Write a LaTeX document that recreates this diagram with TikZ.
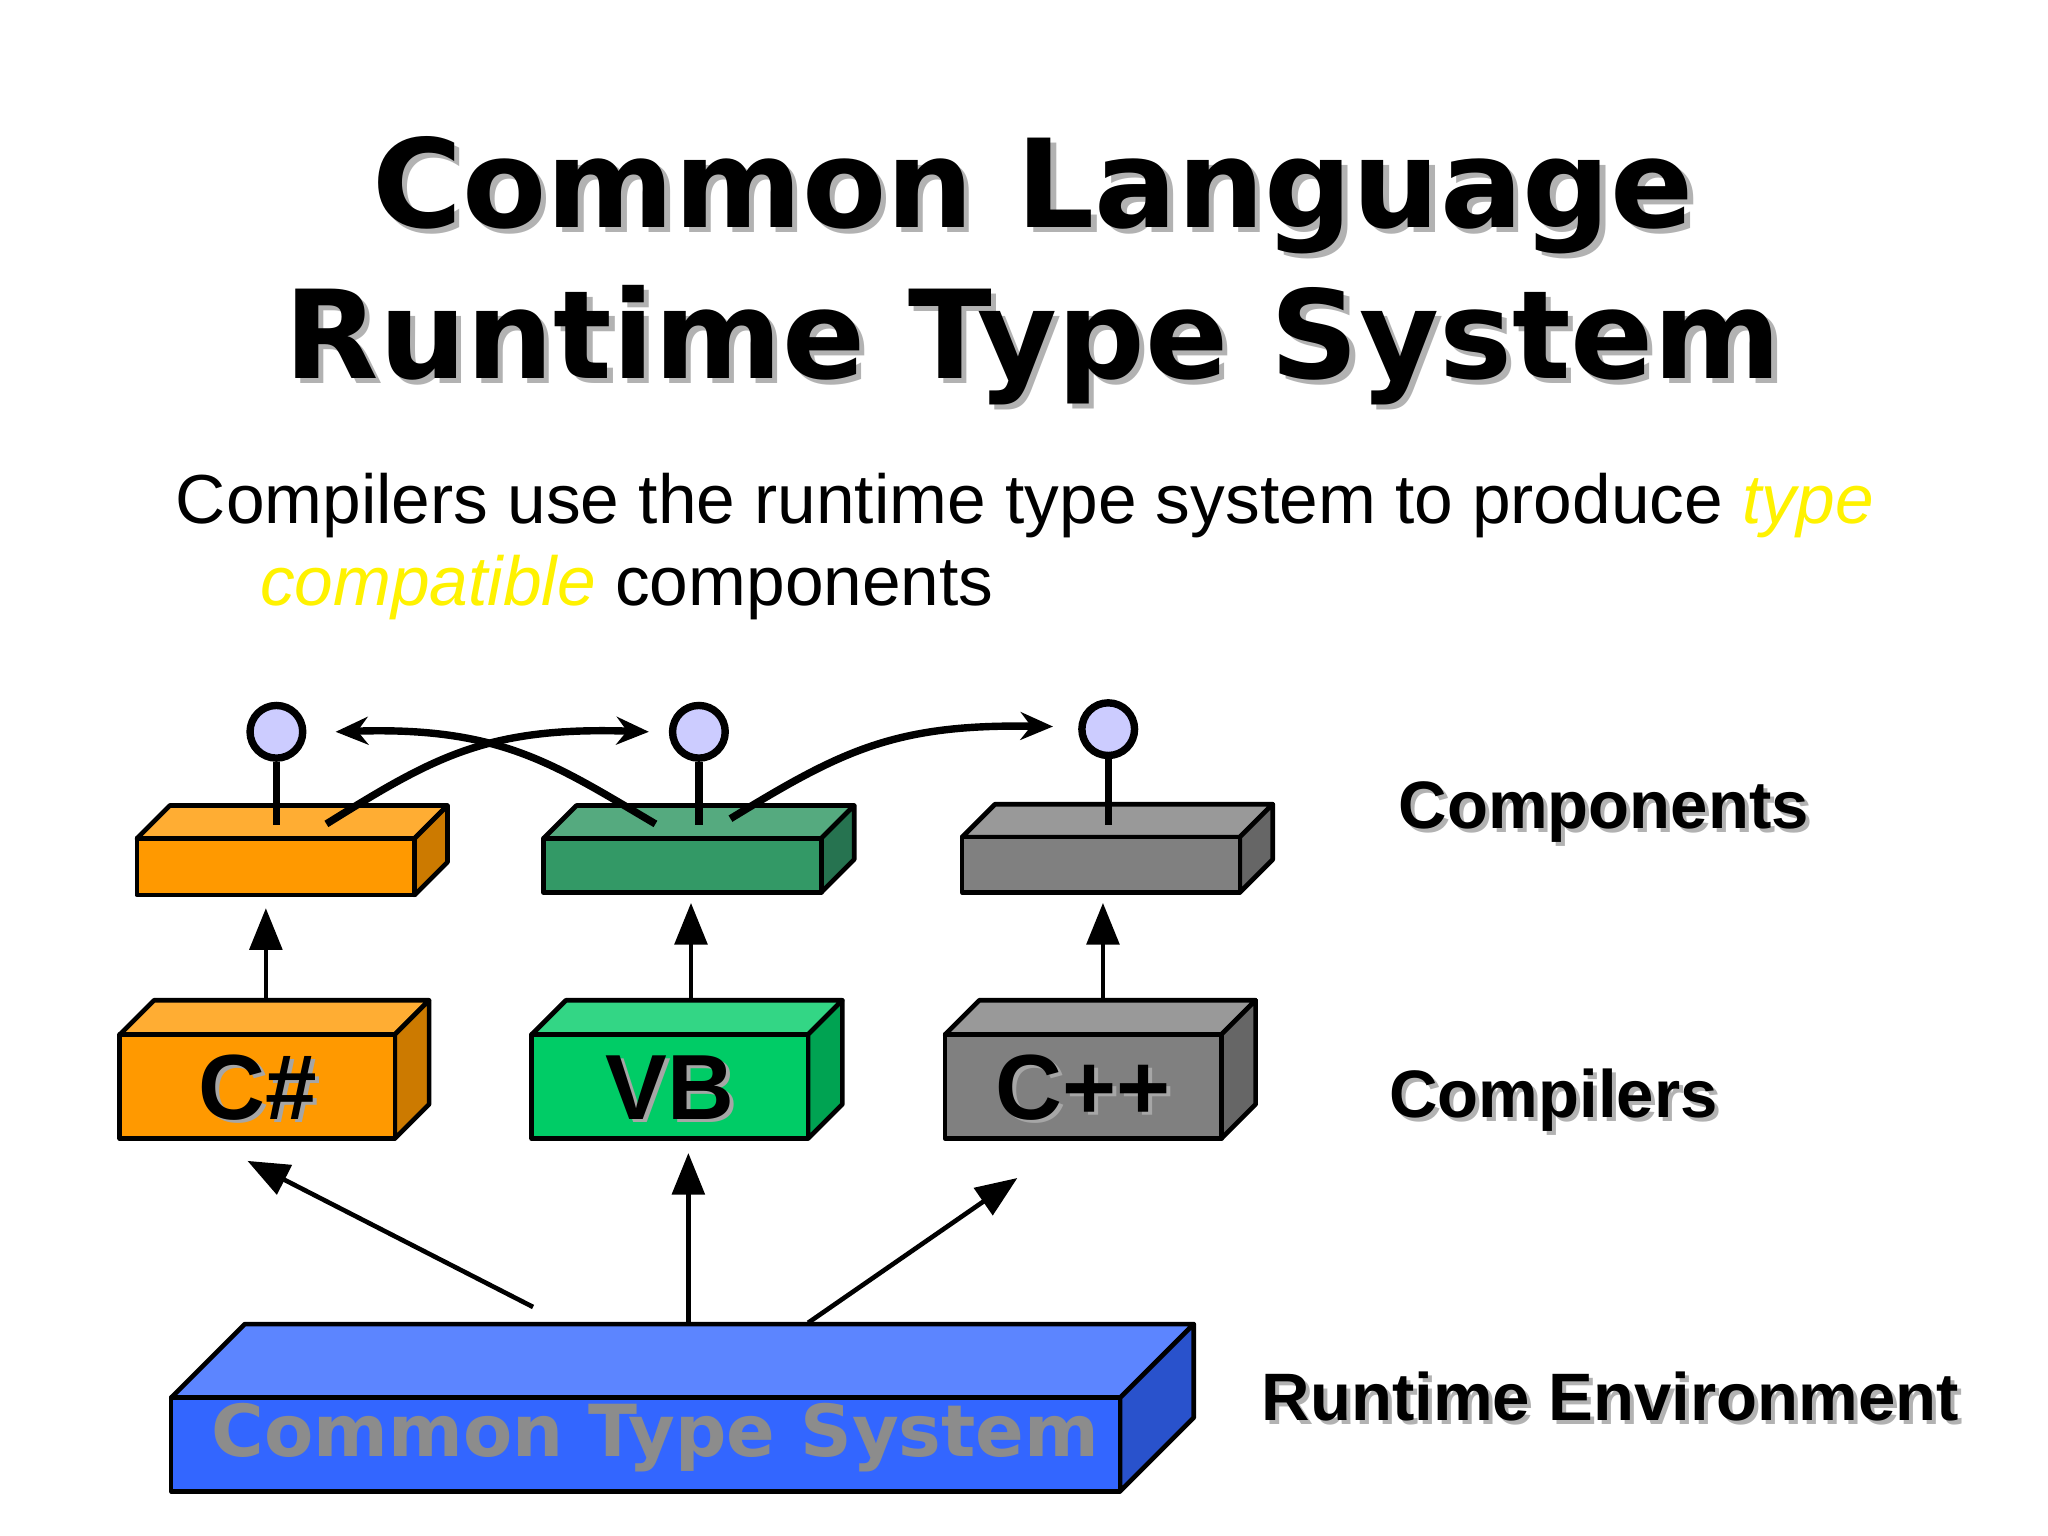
\documentclass[tikz,border=0pt]{standalone}
\usepackage{fontspec}
\setmainfont{DejaVu Sans}
\newfontfamily\lblfont{Liberation Sans}
\usetikzlibrary{arrows.meta}
\definecolor{orfront}{HTML}{FF9900}\definecolor{ortop}{HTML}{FFAD33}\definecolor{orside}{HTML}{CC7A00}
\definecolor{grfront}{HTML}{339966}\definecolor{grtop}{HTML}{55AA7F}\definecolor{grside}{HTML}{267350}
\definecolor{vbfront}{HTML}{00CC66}\definecolor{vbtop}{HTML}{33D685}\definecolor{vbside}{HTML}{00A352}
\definecolor{gyfront}{HTML}{808080}\definecolor{gytop}{HTML}{999999}\definecolor{gyside}{HTML}{666666}
\definecolor{blfront}{HTML}{3366FF}\definecolor{bltop}{HTML}{5C85FF}\definecolor{blside}{HTML}{2952CC}
\definecolor{knob}{HTML}{CCCCFF}
\tikzset{
  face/.style={draw=black, line width=1pt, line join=round},
  con/.style={-{Triangle[length=9pt,width=7pt]}, line width=1pt},
  bent/.style={-{Stealth[length=7pt,width=6pt]}, line width=1.6pt},
  lbl/.style={font=\lblfont\bfseries\fontsize{14.5}{18}\selectfont, anchor=west, inner sep=0},
}
% box: x1,y1 (top-left of front), x2,y2 (bottom-right), depth, front, top, side
\newcommand{\boxx}[8]{%
  \fill[#7,face] (#1,#2) -- (#1+#5,#2-#5) -- (#3+#5,#2-#5) -- (#3,#2) -- cycle;
  \fill[#8,face] (#3,#2) -- (#3+#5,#2-#5) -- (#3+#5,#4-#5) -- (#3,#4) -- cycle;
  \fill[#6,face] (#1,#2) rectangle (#3,#4);
}
\begin{document}
\begin{tikzpicture}[x=0.01cm,y=-0.01cm]
\useasboundingbox (0,0) rectangle (1556,1167);
% title
\foreach \dx/\c in {4/gray!60, 0/black}{
  \node[text=\c, font=\bfseries\fontsize{26.5}{30}\selectfont] at (785+\dx,148+\dx) {Common Language};
  \node[text=\c, font=\bfseries\fontsize{26.5}{30}\selectfont] at (785+\dx,262+\dx) {Runtime Type System};
}
\node[anchor=base west, inner sep=0, font=\lblfont\fontsize{15}{18}\selectfont] (sub1) at (133,398)
  {Compilers use the runtime type system to produce \textcolor{yellow}{\itshape type}};
\node[anchor=base west, inner sep=0, font=\lblfont\fontsize{15}{18}\selectfont] (sub2) at (197,460)
  {\textcolor{yellow}{\itshape compatible} components};
% components
\boxx{104}{637}{315}{680}{25}{orfront}{ortop}{orside}
\boxx{413}{637}{624}{678}{25}{grfront}{grtop}{grside}
\boxx{731}{636}{942}{678}{25}{gyfront}{gytop}{gyside}
% compilers
\boxx{91}{786}{300}{865}{26}{orfront}{ortop}{orside}
\boxx{404}{786}{614}{865}{26}{vbfront}{vbtop}{vbside}
\boxx{718}{786}{928}{865}{26}{gyfront}{gytop}{gyside}
\foreach \x/\t in {196/C\#, 509/VB, 823/C++}{
  \node[text=gray!70, font=\lblfont\bfseries\fontsize{20}{24}\selectfont] at (\x+3,829) {\t};
  \node[font=\lblfont\bfseries\fontsize{20}{24}\selectfont] at (\x,826) {\t};
}
% CTS
\boxx{130}{1062}{851}{1133}{56}{blfront}{bltop}{blside}
\node[text=gray!90, font=\bfseries\fontsize{15.5}{20}\selectfont] (cts) at (498,1092) {Common Type System};
% lollipops
\foreach \n/\x/\y in {a/210/556, b/531/556, c/842/554}{
  \node[circle, draw, line width=1.6pt, fill=knob, minimum size=0.4cm, inner sep=0] (k\n) at (\x,\y) {};
  \coordinate (s\n) at (\x,627);
  \draw[line width=1.6pt] (k\n) -- (s\n);
}
\coordinate (p1) at (248,626); \coordinate (q1) at (493,556);
\coordinate (p2) at (498,626); \coordinate (q2) at (255,556);
\coordinate (p3) at (555,622); \coordinate (q3) at (800,552);
\draw[bent] (p1) .. controls (330,575) and (370,552) .. (q1);
\draw[bent] (p2) .. controls (420,580) and (380,552) .. (q2);
\draw[bent] (p3) .. controls (640,570) and (680,550) .. (q3);
% arrows up
\foreach \x/\t in {202/690, 525/686, 838/686}{
  \coordinate (f\x) at (\x,758); \coordinate (t\x) at (\x,\t);
  \draw[con] (f\x) -- (t\x);
}
\coordinate (r1) at (405,993); \coordinate (e1) at (188,882);
\coordinate (r2) at (523,1005); \coordinate (e2) at (523,876);
\coordinate (r3) at (614,1005); \coordinate (e3) at (773,895);
\foreach \i in {1,2,3} \draw[con] (r\i) -- (e\i);
% labels
\foreach \x/\y/\t in {1062/617/Components, 1055/836/Compilers, 958/1061/Runtime Environment}{
  \node[lbl, text=gray!60] at (\x+3,\y+3) {\t};
}
\node[lbl] (lc) at (1062,617) {Components};
\node[lbl] (lk) at (1055,836) {Compilers};
\node[lbl] (lr) at (958,1061) {Runtime Environment};
\end{tikzpicture}
\end{document}
